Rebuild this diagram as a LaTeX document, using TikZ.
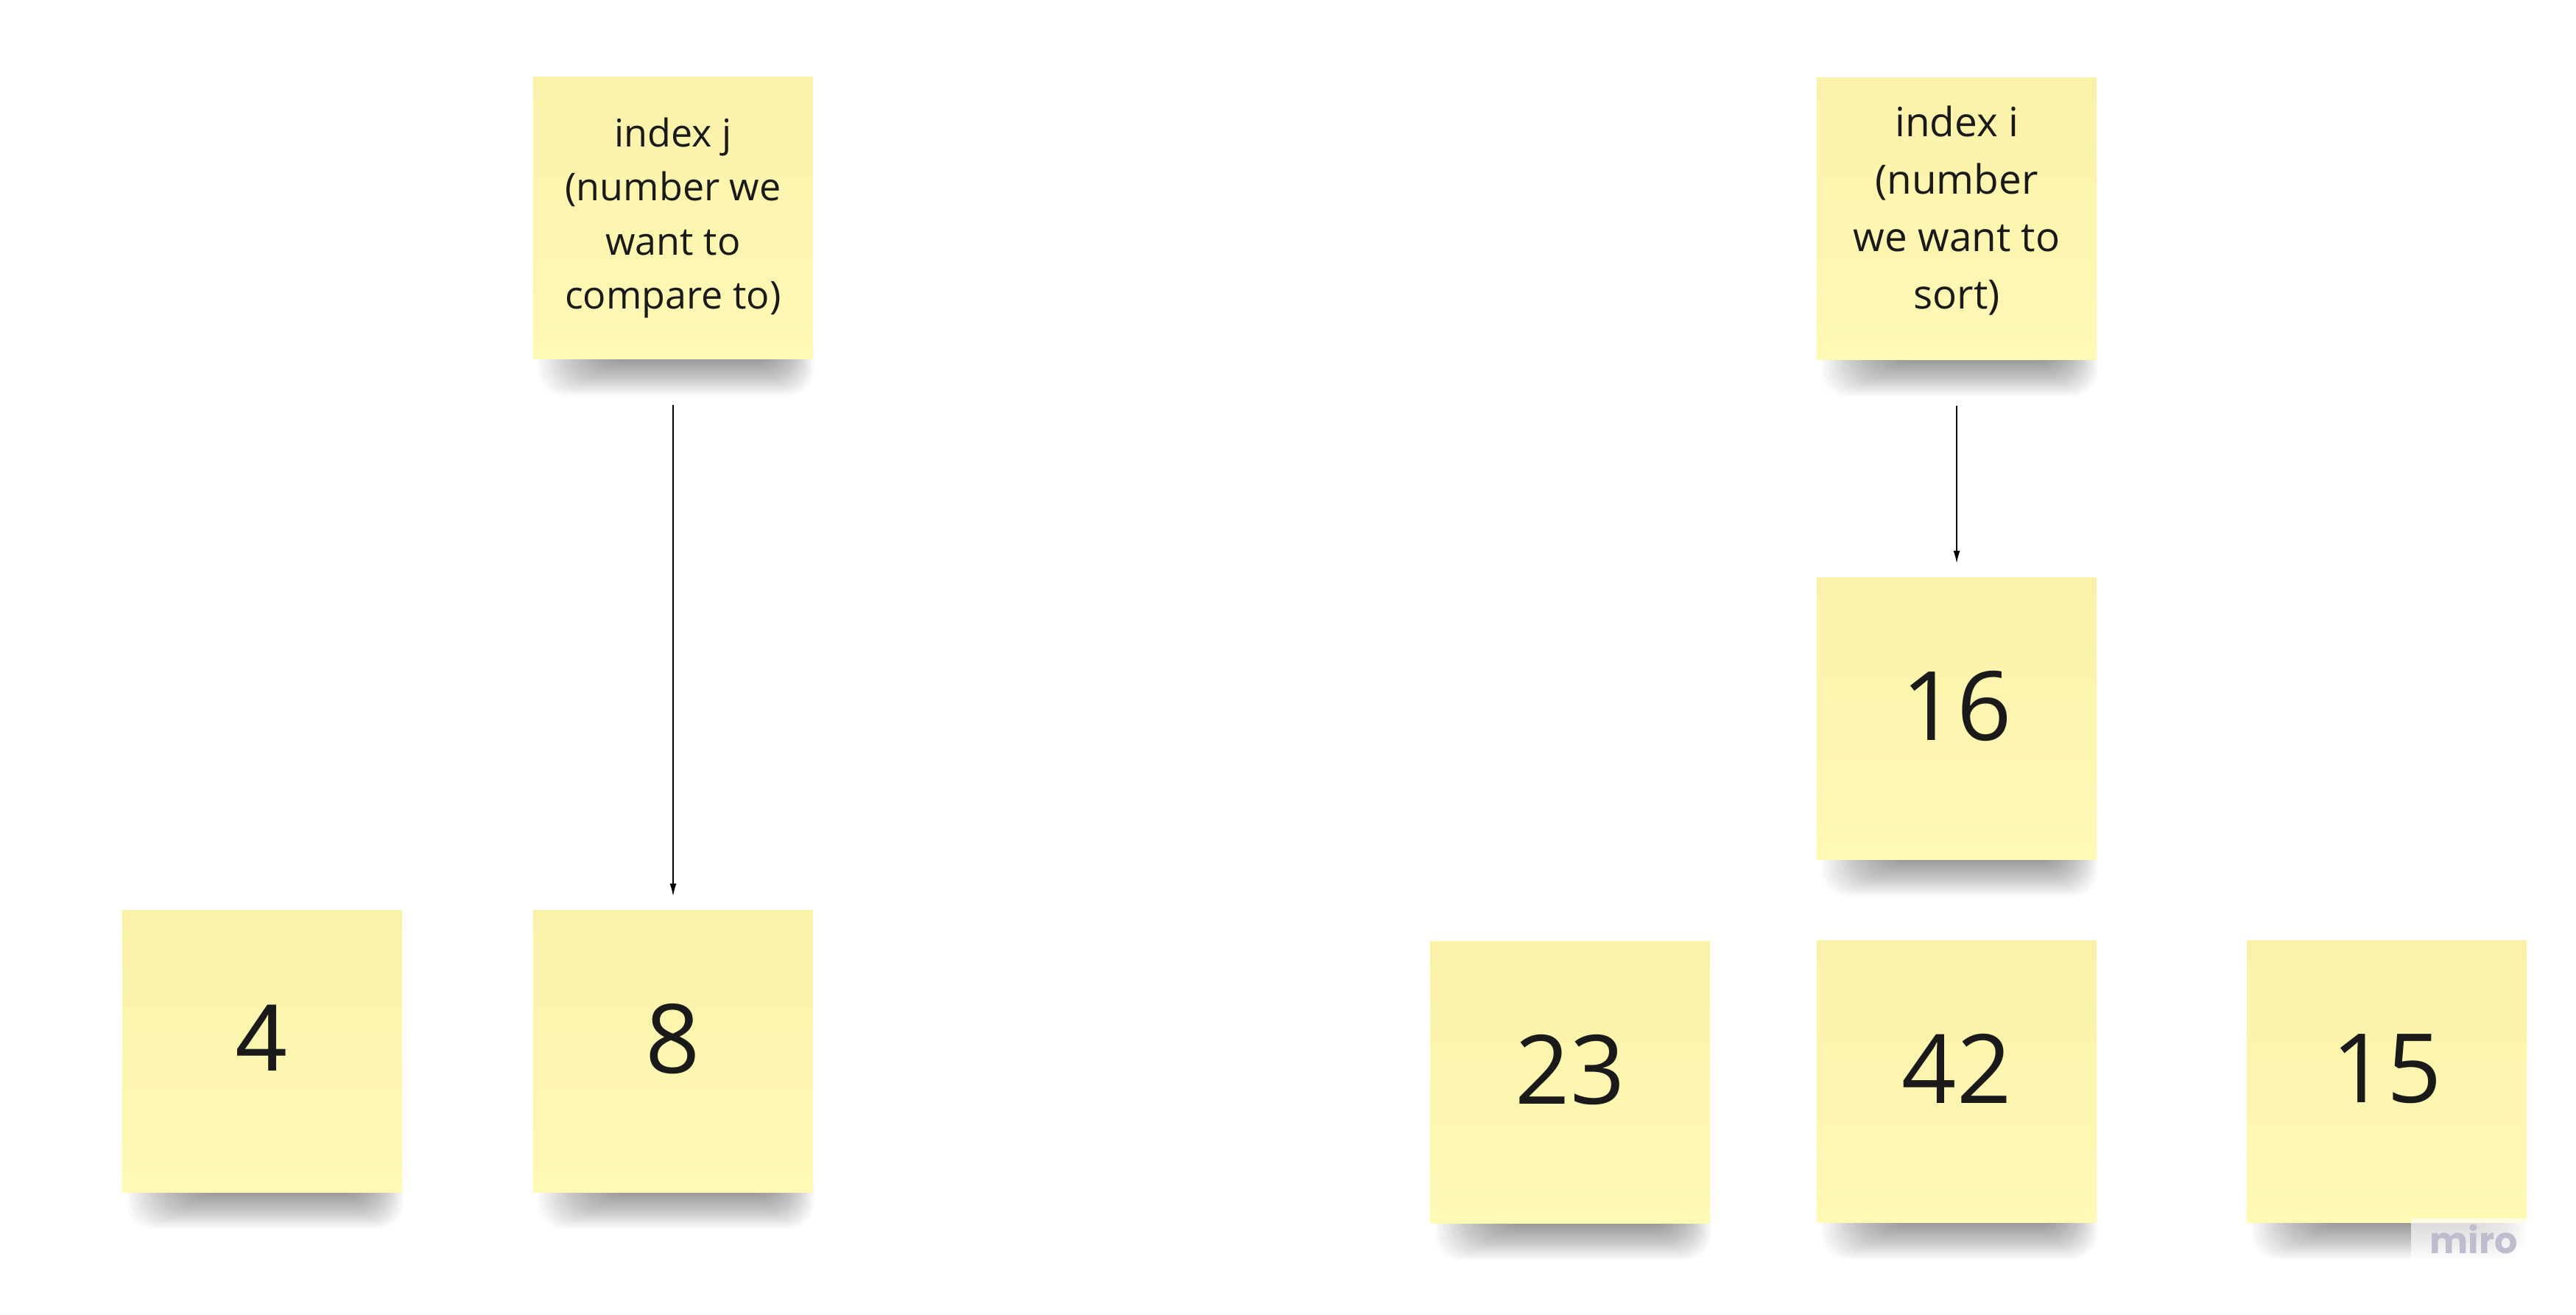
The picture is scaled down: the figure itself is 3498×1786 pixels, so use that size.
\documentclass[tikz,border=0pt]{standalone}
\usepackage{fontspec}
\setmainfont{Open Sans}
\newfontfamily\plainsans{Liberation Sans}
\newfontfamily\logofont{Poppins}
\usetikzlibrary{arrows.meta,calc,backgrounds}

\definecolor{noteTop}{HTML}{FAF2A9}
\definecolor{noteBot}{HTML}{FFF9B6}
\definecolor{ink}{HTML}{1A1A1A}
\definecolor{logogray}{HTML}{BDBDCD}

\tikzset{
  sticky/.style={inner sep=0pt, minimum width=3.8cm, minimum height=3.82cm,
    top color=noteTop, bottom color=noteBot, text=ink, align=center},
  smalltext/.style={font=\fontsize{14.8}{20.8}\selectfont},
  midtext/.style={font=\fontsize{15.6}{22.2}\selectfont, text depth=0.31cm},
  bignum/.style={font=\fontsize{37}{44}\selectfont, text depth=0.36cm},
  connector/.style={draw=black, line width=0.55pt,
    -{Latex[length=0.17cm,width=0.09cm]}},
  shadowlayer/.style={fill=black, opacity=0.02, rounded corners=0.35cm}
}

% soft shadow under a sticky note, built from stacked translucent layers
\newcommand\stickyshadow[1]{%
  \foreach \k in {1,...,22}{%
    \fill[shadowlayer] ($(#1.south west)+({95-4*\k},-40)$)
      rectangle ($(#1.south east)+({-50+2.3*\k},{1+2.2*\k})$);
  }%
}

\begin{document}
\begin{tikzpicture}[x=0.01cm, y=-0.01cm]
  \useasboundingbox (0,0) rectangle (3498,1786);

  % top row: index labels
  \node[sticky, smalltext] (j) at (914,296) {index j\\(number we\\want to\\compare to)};
  \node[sticky, midtext]   (i) at (2657,297) {index i\\(number\\we want to\\sort)};

  % the value being sorted
  \node[sticky, bignum] (n16) at (2657,976) {16};

  % bottom row: array values
  \node[sticky, bignum, font=\plainsans\fontsize{37}{44}\selectfont] (n4) at (356,1428) {4};
  \node[sticky, bignum] (n8)  at (914,1428)  {8};
  \node[sticky, bignum] (n23) at (2132,1470) {23};
  \node[sticky, bignum] (n42) at (2657,1469) {42};
  \node[sticky, bignum] (n15) at (3241,1469) {15};

  \begin{scope}[on background layer]
    \fill[white] (0,0) rectangle (3498,1786);
    \foreach \n in {j,i,n16,n4,n8,n23,n42,n15}{\stickyshadow{\n}}
  \end{scope}

  % pointers
  \draw[connector, shorten <=0.62cm, shorten >=0.19cm] (j.south) -- (n8.north);
  \draw[connector, shorten <=0.62cm, shorten >=0.19cm] (i.south) -- (n16.north);

  % board logo on a faint white plate
  \node[anchor=base, text=logogray, fill=white, fill opacity=0.65, text opacity=1,
    inner xsep=0.25cm, inner ysep=0.08cm,
    font=\logofont\bfseries\fontsize{14}{16}\selectfont]
    (logo) at (3359,1702) {miro};
\end{tikzpicture}
\end{document}
